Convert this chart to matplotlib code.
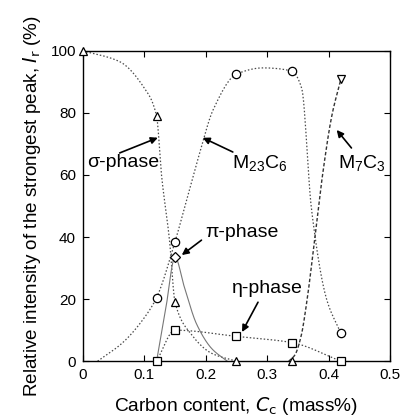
import numpy as np
import matplotlib
matplotlib.use("Agg")
import matplotlib.pyplot as plt

plt.rcParams['font.family'] = ['Liberation Sans', 'DejaVu Sans']
plt.rcParams['mathtext.default'] = 'regular'

# ---- measured data (markers) ----
sigma_x = [0.0, 0.12, 0.15, 0.25, 0.34]
sigma_y = [100, 79, 19, 0, 0]
m23_x = [0.12, 0.15, 0.25, 0.34, 0.42]
m23_y = [20.5, 38.5, 92.5, 93.5, 9]
pi_x = [0.15]
pi_y = [33.5]
eta_x = [0.12, 0.15, 0.25, 0.34, 0.42]
eta_y = [0, 10, 8, 6, 0]
m7_x = [0.42]
m7_y = [91]

# ---- guide curves ----
sigma_cx = [0.0, 0.06, 0.10, 0.12, 0.128, 0.141, 0.15, 0.175, 0.21, 0.25]
sigma_cy = [100, 96.5, 88, 79, 60, 39, 19, 9, 2.5, 0]
m23_cx = [0.024, 0.065, 0.10, 0.12, 0.15, 0.169, 0.19, 0.212, 0.25, 0.293, 0.34, 0.356, 0.372, 0.397, 0.42]
m23_cy = [0, 6, 14, 20.5, 38.5, 52, 67, 81, 92.5, 94.5, 93.5, 88, 49, 19.7, 9]
m7_cx = [0.335, 0.345, 0.355, 0.365, 0.377, 0.39, 0.405, 0.42]
m7_cy = [0, 2, 8, 20, 39, 60, 79, 91]
pi_cx = [0.12, 0.135, 0.15, 0.165, 0.185, 0.21, 0.235]
pi_cy = [0, 17, 33.5, 24, 12, 4, 0]

# ---- labels ----
labels = ['σ-phase', 'M$_{23}$C$_{6}$', 'M$_{7}$C$_{3}$', 'π-phase', 'η-phase']
label_pos = [(0.065, 63.9), (0.288, 63.9), (0.454, 63.9), (0.259, 41.6), (0.301, 23.5)]
arrow_from = [(0.060, 67.1), (0.244, 67.4), (0.437, 68.7), (0.193, 39.0), (0.285, 19.0)]
arrow_to = [(0.122, 72.0), (0.195, 72.0), (0.413, 74.5), (0.161, 34.2), (0.259, 9.4)]


def pchip(x, y, n=300):
    x = np.asarray(x, float); y = np.asarray(y, float)
    h = np.diff(x); d = np.diff(y) / h
    m = np.zeros_like(y)
    for k in range(1, len(x) - 1):
        if d[k - 1] * d[k] > 0:
            w1 = 2 * h[k] + h[k - 1]; w2 = h[k] + 2 * h[k - 1]
            m[k] = (w1 + w2) / (w1 / d[k - 1] + w2 / d[k])
    m[0] = d[0]; m[-1] = d[-1]
    xs = np.linspace(x[0], x[-1], n)
    idx = np.clip(np.searchsorted(x, xs) - 1, 0, len(x) - 2)
    t = (xs - x[idx]) / h[idx]
    h00 = 2 * t**3 - 3 * t**2 + 1; h10 = t**3 - 2 * t**2 + t
    h01 = -2 * t**3 + 3 * t**2; h11 = t**3 - t**2
    ys = h00 * y[idx] + h10 * h[idx] * m[idx] + h01 * y[idx + 1] + h11 * h[idx] * m[idx + 1]
    return xs, ys


fig = plt.figure(figsize=(4.06, 4.20), dpi=100)
ax = fig.add_axes([0.204, 0.140, 0.757, 0.739])

gc = '#4a4a4a'
dot = (0, (1.2, 1.6))
ax.plot(*pchip(sigma_cx, sigma_cy), color=gc, lw=0.9, ls=dot)
ax.plot(*pchip(m23_cx, m23_cy), color=gc, lw=0.9, ls=dot)
ax.plot(*pchip(m7_cx, m7_cy), color='#333333', lw=1.0, ls=(0, (2.5, 1.5)))
ax.plot(*pchip(pi_cx, pi_cy), color='#777777', lw=0.8, ls='-')
ax.plot(*pchip(eta_x, eta_y), color=gc, lw=0.9, ls=dot)

mk = dict(mfc='white', mec='black', mew=0.9, ls='none', ms=6, clip_on=False, zorder=5)
ax.plot(sigma_x, sigma_y, marker='^', **mk)
ax.plot(m23_x, m23_y, marker='o', **mk)
ax.plot(pi_x, pi_y, marker='D', **dict(mk, ms=5.5))
ax.plot(eta_x, eta_y, marker='s', **dict(mk, ms=5.5))
ax.plot(m7_x, m7_y, marker='v', **mk)

ax.set_xlim(0, 0.5)
ax.set_ylim(0, 100)
ax.set_xticks([0, 0.1, 0.2, 0.3, 0.4, 0.5])
ax.set_xticklabels(['0', '0.1', '0.2', '0.3', '0.4', '0.5'])
ax.set_yticks([0, 20, 40, 60, 80, 100])
ax.tick_params(direction='in', top=True, right=True, length=4, width=0.8, labelsize=11, pad=5)
for s in ax.spines.values():
    s.set_linewidth(1.0)

ax.set_xlabel('Carbon content, $\\mathit{C}_\\mathrm{c}$ (mass%)', fontsize=13.8, labelpad=9)
ax.set_ylabel('Relative intensity of the strongest peak, $\\mathit{I}_\\mathrm{r}$ (%)', fontsize=13.6, labelpad=5)

fs = 14
ap = dict(arrowstyle='-|>', color='black', lw=1.2, mutation_scale=10, shrinkA=0, shrinkB=0)
for lab, lp, a0, a1 in zip(labels, label_pos, arrow_from, arrow_to):
    ax.text(lp[0], lp[1], lab, fontsize=fs, ha='center', va='center')
    ax.annotate('', xy=a1, xytext=a0, arrowprops=ap)

fig.savefig('out.png', dpi=100)
